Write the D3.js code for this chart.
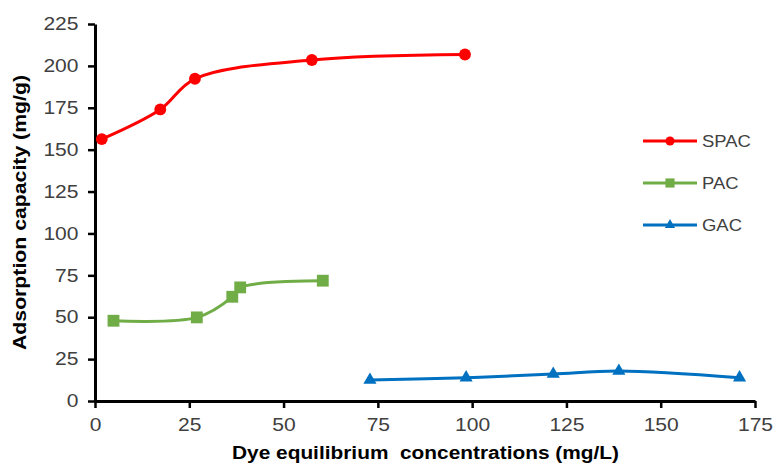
<!DOCTYPE html>
<html>
<head>
<meta charset="utf-8">
<script src="https://cdn.jsdelivr.net/npm/d3@7"></script>
<style>
  body { margin: 0; background: #fff; }
  svg { display: block; font-family: "Liberation Sans", Arial, sans-serif; }
</style>
</head>
<body>
<div id="chart"></div>
<script>
// Data
const spacX = [1.8, 17.3, 26.5, 57.5, 98.1];
const spacY = [156.3, 174, 192.3, 203.5, 206.8];
const pacX = [4.9, 27, 36.4, 38.5, 60.4];
const pacY = [47.9, 49.9, 62.2, 67.8, 71.8];
const gacX = [72.9, 98.4, 121.5, 138.9, 170.9];
const gacY = [12.5, 13.9, 16.1, 17.9, 13.9];
const seriesNames = ["SPAC", "PAC", "GAC"];
const xTicks = [0, 25, 50, 75, 100, 125, 150, 175];
const yTicks = [0, 25, 50, 75, 100, 125, 150, 175, 200, 225];

const width = 776, height = 466;
const margin = { top: 24, right: 21, bottom: 65, left: 95 };
const stretch = 1.17; // glyphs in the reference are drawn wide

const svg = d3.select("#chart").append("svg")
  .attr("width", width).attr("height", height);

const x = d3.scaleLinear().domain([0, 175]).range([margin.left, width - margin.right]);
const y = d3.scaleLinear().domain([0, 225]).range([height - margin.bottom, margin.top]);

const series = [
  { name: seriesNames[0], xs: spacX, ys: spacY, color: "#ff0000", marker: "circle" },
  { name: seriesNames[1], xs: pacX, ys: pacY, color: "#70ad47", marker: "square" },
  { name: seriesNames[2], xs: gacX, ys: gacY, color: "#0070c0", marker: "triangle" }
];

// axes
const xAxis = svg.append("g")
  .attr("transform", `translate(0,${y(0)})`)
  .call(d3.axisBottom(x).tickValues(xTicks).tickSize(7).tickSizeOuter(0).tickPadding(10));
const yAxis = svg.append("g")
  .attr("transform", `translate(${x(0)},0)`)
  .call(d3.axisLeft(y).tickValues(yTicks).tickSize(7).tickSizeOuter(0));

[xAxis, yAxis].forEach(a => {
  a.select(".domain").attr("stroke", "#000").attr("stroke-width", 3);
  a.selectAll(".tick line").attr("stroke", "#000").attr("stroke-width", 2.5);
  a.selectAll(".tick text")
    .attr("fill", "#404040")
    .attr("transform", `scale(${stretch},1)`)
    .style("font-size", "18px")
    .style("font-family", '"Liberation Sans", Arial, sans-serif');
});
yAxis.selectAll(".tick text").attr("x", -16.5 / stretch);

// axis titles
svg.append("text")
  .attr("x", 232).attr("y", 459)
  .attr("textLength", 387)
  .attr("lengthAdjust", "spacingAndGlyphs")
  .style("font-size", "17.5px").style("font-weight", "bold")
  .attr("fill", "#000")
  .attr("xml:space", "preserve")
  .text("Dye equilibrium  concentrations (mg/L)");

svg.append("text")
  .attr("transform", "translate(26,350) rotate(-90)")
  .attr("textLength", 275)
  .attr("lengthAdjust", "spacingAndGlyphs")
  .style("font-size", "17.5px").style("font-weight", "bold")
  .attr("fill", "#000")
  .text("Adsorption capacity (mg/g)");

const symbolFor = m => m === "circle" ? d3.symbolCircle : m === "square" ? d3.symbolSquare : d3.symbolTriangle;
const sizeFor = m => m === "circle" ? 110 : m === "square" ? 140 : 75;

const line = d3.line()
  .x(d => x(d[0])).y(d => y(d[1]))
  .curve(d3.curveCatmullRom.alpha(0.5));

series.forEach(s => {
  const pts = s.xs.map((v, i) => [v, s.ys[i]]);
  svg.append("path")
    .datum(pts)
    .attr("fill", "none")
    .attr("stroke", s.color)
    .attr("stroke-width", 3)
    .attr("d", line);

  svg.selectAll(null)
    .data(pts)
    .join("path")
    .attr("transform", d => `translate(${x(d[0])},${y(d[1])})`)
    .attr("d", d3.symbol().type(symbolFor(s.marker)).size(sizeFor(s.marker)))
    .attr("fill", s.color);
});

// legend
const legend = svg.append("g").attr("transform", "translate(643,141)");
series.forEach((s, i) => {
  const g = legend.append("g").attr("transform", `translate(0,${i * 42})`);
  g.append("line")
    .attr("x1", 0).attr("x2", 54)
    .attr("stroke", s.color).attr("stroke-width", 3);
  g.append("path")
    .attr("transform", "translate(27,0)")
    .attr("d", d3.symbol().type(symbolFor(s.marker)).size(sizeFor(s.marker) * 0.6))
    .attr("fill", s.color);
  g.append("text")
    .attr("transform", "translate(59,6) scale(1.12,1)")
    .style("font-size", "16.5px")
    .attr("fill", "#404040")
    .text(s.name);
});
</script>
</body>
</html>
